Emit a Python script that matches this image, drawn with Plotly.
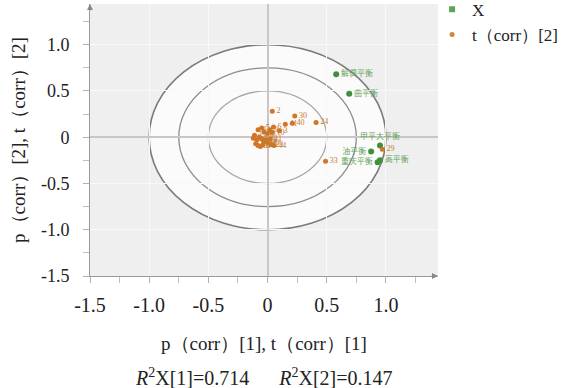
import plotly.graph_objects as go

# ---- data ----
var_labels = ["解偶平衡", "曲平衡", "甲平大平衡", "油平衡", "重庆平衡", "高平衡"]
var_x = [0.58, 0.69, 0.95, 0.875, 0.93, 0.95]
var_y = [0.68, 0.47, -0.09, -0.155, -0.27, -0.25]
var_pos = ["middle right", "middle right", "top center", "middle left", "middle left", "middle right"]

obs_labels = ["2", "30", "40", "24", "41", "6", "3", "33", "44", "29",
              "1", "4", "5", "7", "8", "9", "10", "11", "12", "13",
              "14", "15", "16", "17", "18", "19", "20", "21", "22", "23"]
obs_x = [0.04, 0.23, 0.21, 0.41, 0.15, 0.05, 0.10, 0.49, 0.055, 0.97,
         -0.11, -0.08, -0.05, -0.03, 0.00, 0.02, 0.04, -0.09, -0.07, -0.05,
         -0.03, -0.10, -0.08, -0.06, -0.04, -0.02, 0.00, 0.02, -0.12, 0.03]
obs_y = [0.28, 0.23, 0.15, 0.16, 0.14, 0.11, 0.07, -0.26, -0.09, -0.13,
         0.02, 0.08, 0.10, 0.06, 0.04, 0.08, 0.05, -0.03, 0.00, -0.02,
         -0.05, -0.07, -0.09, -0.10, -0.08, -0.03, -0.06, -0.02, -0.01, -0.08]

circle_radii = [1.0, 0.75, 0.5]
circle_colors = ["#7a7a7a", "#8c8c8c", "#a8a8a8"]

tick_vals = [-1.5, -1.0, -0.5, 0, 0.5, 1.0]
tick_text = ["-1.5", "-1.0", "-0.5", "0", "0.5", "1.0"]

x_title = "p（corr）[1], t（corr）[1]"
y_title = "p（corr）[2], t（corr）[2]"
r2_text = "<i>R</i><sup>2</sup>X[1]=0.714      <i>R</i><sup>2</sup>X[2]=0.147"

serif = "Liberation Serif, Times New Roman, serif"

fig = go.Figure()

fig.add_trace(go.Scatter(
    x=var_x, y=var_y, mode="markers+text", name="X",
    text=var_labels, textposition=var_pos,
    textfont=dict(family="Noto Sans CJK SC", size=8, color="#6aa562"),
    marker=dict(color="#3f8f3f", size=6, symbol="circle"),
    showlegend=False,
))
fig.add_trace(go.Scatter(
    x=obs_x, y=obs_y, mode="markers+text", name="t（corr）[2]",
    text=obs_labels, textposition="middle right",
    textfont=dict(family=serif, size=8, color="#c77a30"),
    marker=dict(color="#d27524", size=5, symbol="circle"),
    showlegend=False,
))
# legend entries
fig.add_trace(go.Scatter(x=[None], y=[None], mode="markers", name="X",
                         marker=dict(color="#5aa55a", size=6, symbol="square")))
fig.add_trace(go.Scatter(x=[None], y=[None], mode="markers", name="t（corr）[2]",
                         marker=dict(color="#d2873a", size=5, symbol="circle")))

shapes = []
for r, c in zip(circle_radii, circle_colors):
    shapes.append(dict(type="circle", xref="x", yref="y", x0=-r, x1=r, y0=-r, y1=r,
                       line=dict(color=c, width=1.6 if r == 1.0 else 1.3),
                       fillcolor="#fbfbfb" if r == 1.0 else "rgba(0,0,0,0)",
                       layer="below"))

def axis_common(tsize, lstand):
    return dict(
        tickvals=tick_vals, ticktext=tick_text,
        showline=True, linecolor="#999999", linewidth=1,
        ticks="outside", ticklen=6, tickcolor="#b0b0b0",
        minor=dict(ticks="outside", ticklen=6, tickcolor="#c0c0c0", dtick=0.25, tick0=0, showgrid=False),
        showgrid=True, gridcolor="#f8f8f8", gridwidth=1,
        zeroline=True, zerolinecolor="#cdc4c4", zerolinewidth=2,
        tickfont=dict(family=serif, size=tsize, color="#222222"),
        ticklabelstandoff=lstand,
        title_font=dict(family=serif, size=19, color="#222222"),
    )

fig.update_layout(
    width=563, height=388,
    margin=dict(l=90, r=125, t=4, b=112, autoexpand=False),
    paper_bgcolor="white", plot_bgcolor="#efefef",
    xaxis=dict(range=[-1.5, 1.44], title=dict(text=x_title, standoff=21), **axis_common(20, 5)),
    yaxis=dict(range=[-1.5, 1.44], title=dict(text=y_title, standoff=10), **axis_common(18, 10)),
    shapes=shapes,
    legend=dict(x=0.983, y=1.045, xanchor="left", yanchor="top",
                font=dict(family=serif, size=17, color="#222222"),
                bgcolor="rgba(0,0,0,0)", itemwidth=30, tracegroupgap=0),
    annotations=[
        dict(text=r2_text, xref="paper", yref="paper", x=0.5, y=-0.371,
             xanchor="center", yanchor="middle", showarrow=False,
             font=dict(family=serif, size=20, color="#222222")),
        dict(x=1, y=0, xref="paper", yref="paper", ax=-8, ay=0, showarrow=True,
             arrowhead=2, arrowsize=1.2, arrowwidth=1, arrowcolor="#888888", text=""),
        dict(x=0, y=1, xref="paper", yref="paper", ax=0, ay=8, showarrow=True,
             arrowhead=2, arrowsize=1.2, arrowwidth=1, arrowcolor="#888888", text=""),
    ],
)

fig.write_html("out.html", config={"displayModeBar": False},
               post_script="document.body.style.margin='0px';")
